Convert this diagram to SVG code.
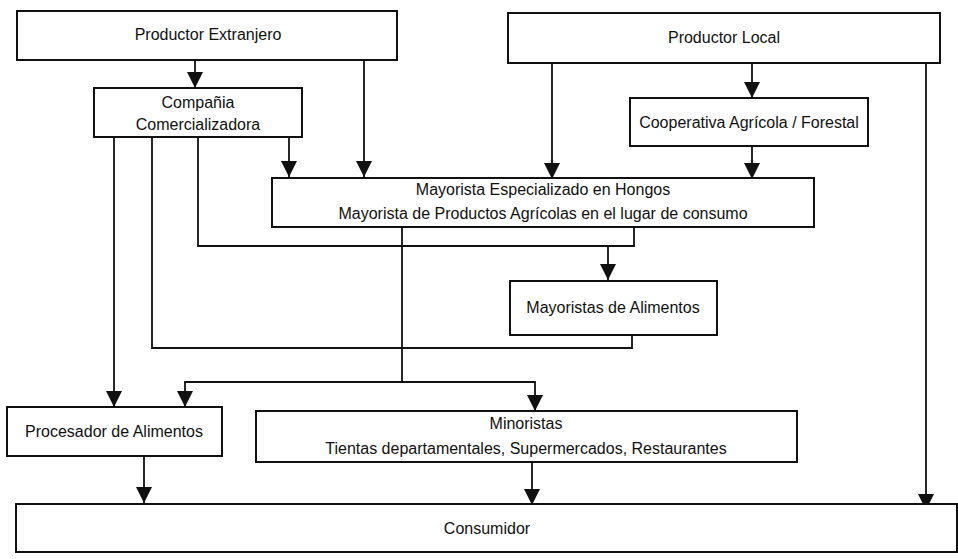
<svg xmlns="http://www.w3.org/2000/svg" width="958" height="559" viewBox="0 0 958 559">
<defs>
<marker id="ah" viewBox="0 0 16 16" refX="16" refY="8" markerWidth="16" markerHeight="16" markerUnits="userSpaceOnUse" orient="auto">
<path d="M0,0 L16,8 L0,16 Z" fill="#111"/>
</marker>
</defs>
<style>
.box{fill:#fff;stroke:#111;stroke-width:2}
.t{font-family:"Liberation Sans",Arial,sans-serif;font-size:16px;fill:#111;text-anchor:middle}
.c{fill:none;stroke:#111;stroke-width:1.8}
.a{marker-end:url(#ah)}
</style>
<rect width="958" height="559" fill="#fff"/>
<g id="connectors">
<path class="c a" d="M195,60 V88"/>
<path class="c a" d="M364,60 V177"/>
<path class="c a" d="M289,137 V177"/>
<path class="c a" d="M752,63 V98"/>
<path class="c a" d="M752,146 V179"/>
<path class="c a" d="M552,63 V179"/>
<path class="c a" d="M926,63 V510"/>
<path class="c a" d="M114,137 V407"/>
<path class="c" d="M152,137 V348 H632 V335"/>
<path class="c" d="M198,137 V246 H634 V228"/>
<path class="c a" d="M608,246 V280"/>
<path class="c" d="M402,226 V382"/>
<path class="c a" d="M402,382 H185 V407"/>
<path class="c a" d="M402,382 H535 V411"/>
<path class="c a" d="M144,455 V503"/>
<path class="c a" d="M532,462 V505"/>
</g>
<g id="productor-extranjero"><rect class="box" x="17" y="11" width="380" height="49"/><text class="t" x="208" y="40">Productor Extranjero</text></g>
<g id="productor-local"><rect class="box" x="508" y="13" width="432" height="50"/><text class="t" x="724" y="43">Productor Local</text></g>
<g id="compania"><rect class="box" x="94" y="88" width="208" height="49"/><text class="t" x="198" y="108">Compañia</text><text class="t" x="198" y="130">Comercializadora</text></g>
<g id="cooperativa"><rect class="box" x="630" y="98" width="238" height="48"/><text class="t" x="749" y="128">Cooperativa Agrícola / Forestal</text></g>
<g id="mayorista"><rect class="box" x="272" y="178" width="542" height="49"/><text class="t" x="543" y="195">Mayorista Especializado en Hongos</text><text class="t" x="543" y="219">Mayorista de Productos Agrícolas en el lugar de consumo</text></g>
<g id="mayoristas-alimentos"><rect class="box" x="510" y="281" width="207" height="54"/><text class="t" x="613" y="313">Mayoristas de Alimentos</text></g>
<g id="procesador"><rect class="box" x="7" y="407" width="215" height="49"/><text class="t" x="114" y="437">Procesador de Alimentos</text></g>
<g id="minoristas"><rect class="box" x="256" y="411" width="541" height="51"/><text class="t" x="526" y="429">Minoristas</text><text class="t" x="526" y="454">Tientas departamentales, Supermercados, Restaurantes</text></g>
<g id="consumidor"><rect class="box" x="16" y="504" width="941" height="48"/><text class="t" x="487" y="534">Consumidor</text></g>
</svg>
